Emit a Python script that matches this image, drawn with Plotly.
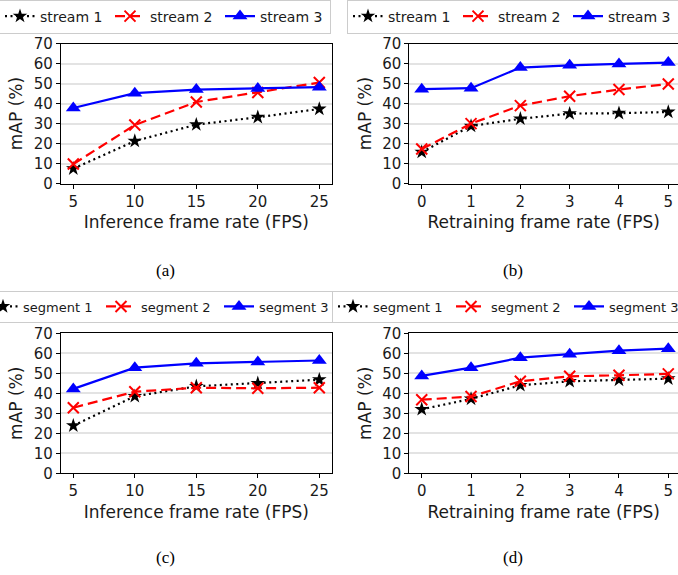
import plotly.graph_objects as go

W, H = 678, 575

# ---------------- data ----------------
infer_fps = [5, 10, 15, 20, 25]
retrain_fps = [0, 1, 2, 3, 4, 5]

a_stream1 = [7.5, 21.3, 29.5, 33.2, 37.3]
a_stream2 = [9.8, 29.3, 40.8, 45.5, 50.5]
a_stream3 = [37.8, 45.2, 47.0, 47.5, 48.2]

b_stream1 = [15.8, 28.8, 32.4, 35.0, 35.2, 35.8]
b_stream2 = [17.3, 30.0, 39.0, 43.7, 47.0, 49.8]
b_stream3 = [47.2, 47.7, 58.0, 59.1, 59.8, 60.5]

c_segment1 = [23.8, 38.5, 43.5, 45.0, 46.8]
c_segment2 = [32.8, 40.8, 42.8, 42.5, 42.8]
c_segment3 = [42.2, 52.8, 55.0, 55.6, 56.4]

d_segment1 = [32.0, 37.2, 44.0, 46.0, 46.7, 47.3]
d_segment2 = [36.8, 38.4, 46.0, 48.5, 49.0, 49.7]
d_segment3 = [48.7, 52.8, 57.8, 59.5, 61.3, 62.3]

y_ticks = [0, 10, 20, 30, 40, 50, 60, 70]
panel_labels = ["(a)", "(b)", "(c)", "(d)"]
x_titles = ["Inference frame rate (FPS)", "Retraining frame rate (FPS)",
            "Inference frame rate (FPS)", "Retraining frame rate (FPS)"]
y_title = "mAP (%)"

FONT = "DejaVu Sans"
TXT = "#1a1a1a"

def px_x(p):
    return p / W

def px_y(p):
    return 1 - p / H

fig = go.Figure()

styles = [
    dict(color="black", dash="2px,3.5px", symbol="star", size=11, mline=0),
    dict(color="red", dash="10px,5px", symbol="x-thin-open", size=11, mline=2),
    dict(color="blue", dash="solid", symbol="triangle-up", size=13, mline=0),
]

panels = [
    (infer_fps, [a_stream1, a_stream2, a_stream3], "stream"),
    (retrain_fps, [b_stream1, b_stream2, b_stream3], "stream"),
    (infer_fps, [c_segment1, c_segment2, c_segment3], "segment"),
    (retrain_fps, [d_segment1, d_segment2, d_segment3], "segment"),
]

for i, (xs, series, name) in enumerate(panels):
    ax = "" if i == 0 else str(i + 1)
    leg = "legend" if i == 0 else "legend" + str(i + 1)
    for j, ys in enumerate(series):
        s = styles[j]
        fig.add_trace(go.Scatter(
            x=xs, y=ys, mode="lines+markers",
            name=f"{name} {j + 1}",
            line=dict(color=s["color"], width=2.2, dash=s["dash"]),
            marker=dict(symbol=s["symbol"], size=s["size"], color=s["color"],
                        line=dict(width=s["mline"], color=s["color"])),
            xaxis="x" + ax, yaxis="y" + ax, legend=leg,
            cliponaxis=False,
        ))

# geometry (pixels)
left_L, right_L = 61, 331.6
left_R = 409.4
top_T, bot_T = 43.5, 183.7
top_B, bot_B = 333.3, 473.3

domains = [
    ([px_x(left_L), px_x(right_L)], [px_y(bot_T), px_y(top_T)], [4, 26]),
    ([px_x(left_R), 1.0], [px_y(bot_T), px_y(top_T)], [-0.25, 5.197]),
    ([px_x(left_L), px_x(right_L)], [px_y(bot_B), px_y(top_B)], [4, 26]),
    ([px_x(left_R), 1.0], [px_y(bot_B), px_y(top_B)], [-0.25, 5.197]),
]

layout = dict(
    width=W, height=H,
    margin=dict(l=0, r=0, t=0, b=0, pad=0, autoexpand=False),
    paper_bgcolor="white", plot_bgcolor="white",
    font=dict(family=FONT, size=14, color=TXT),
    showlegend=True,
)

for i, (xd, yd, xr) in enumerate(domains):
    ax = "" if i == 0 else str(i + 1)
    right_side = i in (1, 3)
    xticks = retrain_fps if right_side else infer_fps
    layout["xaxis" + ax] = dict(
        domain=xd, range=xr, anchor="y" + ax,
        tickmode="array", tickvals=xticks,
        ticks="outside", ticklen=4, tickwidth=1.2, tickcolor="black",
        showline=True, linecolor="black", linewidth=1.3, mirror=True,
        showgrid=False, zeroline=False,
        tickfont=dict(family=FONT, size=15, color=TXT),
        title=dict(text=x_titles[i], font=dict(family=FONT, size=17, color=TXT),
                   standoff=6),
        automargin=False,
    )
    layout["yaxis" + ax] = dict(
        domain=yd, range=[0, 70], anchor="x" + ax,
        tickmode="array", tickvals=y_ticks,
        ticks="outside", ticklen=4, tickwidth=1.2, tickcolor="black",
        showline=True, linecolor="black", linewidth=1.3,
        mirror=(not right_side),
        showgrid=True, gridcolor="#e3e3e3", gridwidth=1.5,
        zeroline=False,
        tickfont=dict(family=FONT, size=15, color=TXT),
        title=dict(text=y_title, font=dict(family=FONT, size=17, color=TXT),
                   standoff=6),
        automargin=False,
    )

legend_pos = [(165, 16.5), (513, 16.5), (160, 306.5), (510, 306.5)]
entry_w = [65, 65, 73, 73]
legend_font = [14, 14, 13, 13]
for i, (lx, ly) in enumerate(legend_pos):
    key = "legend" if i == 0 else "legend" + str(i + 1)
    layout[key] = dict(
        x=px_x(lx), y=px_y(ly), xanchor="center", yanchor="middle",
        orientation="h", bgcolor="white", bordercolor="#cccccc", borderwidth=1,
        font=dict(family=FONT, size=legend_font[i], color=TXT),
        itemwidth=30, tracegroupgap=0,
        entrywidth=entry_w[i], entrywidthmode="pixels",
    )

label_pos = [(165, 270), (513, 270), (165, 557), (513, 557)]
layout["annotations"] = [
    dict(text=t, x=px_x(lx), y=px_y(ly), xref="paper", yref="paper",
         showarrow=False, xanchor="center", yanchor="middle",
         font=dict(family="Liberation Serif", size=17, color="black"))
    for t, (lx, ly) in zip(panel_labels, label_pos)
]

fig.update_layout(**layout)
fig.write_html(
    "out.html",
    config={"displayModeBar": False},
    post_script="document.body.style.margin='0px';",
)
